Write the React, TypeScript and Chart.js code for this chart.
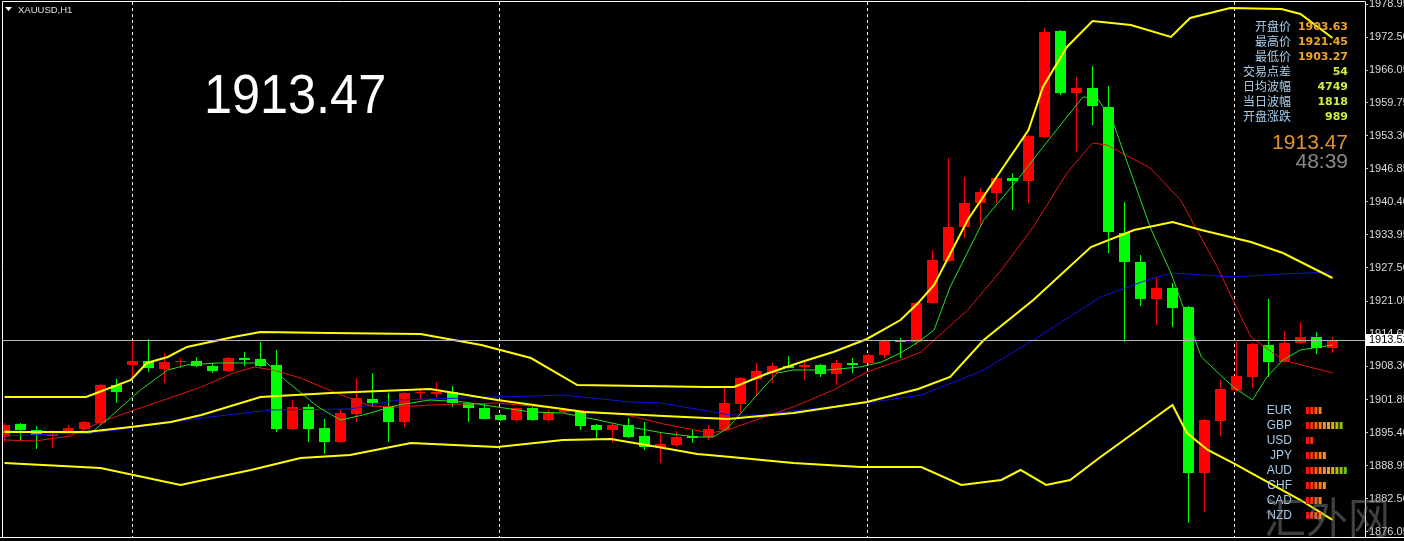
import React, { useEffect, useRef } from "react";
import { Chart, registerables } from "chart.js";

Chart.register(...registerables);

// ---------- data ----------
const symbolLabel = "XAUUSD,H1";
const bigPriceText = "1913.47";
const bidPrice = 1913.52;
const clockText = "48:39";

const opens = [
  1894.54, 1897.08, 1895.9, 1894.74, 1895.32, 1896.1, 1897.27, 1904.68, 1908.58, 1909.36,
  1907.8, 1909.16, 1909.36, 1908.38, 1907.41, 1909.94, 1909.75, 1908.58, 1896.1, 1900.39,
  1896.29, 1893.57, 1899.03, 1901.95, 1900.59, 1897.47, 1903.12, 1902.93, 1903.32, 1901.17,
  1900.2, 1898.83, 1897.86, 1900.2, 1897.86, 1899.42, 1899.42, 1896.88, 1895.9, 1896.88,
  1894.74, 1892.59, 1892.98, 1894.74, 1894.54, 1895.9, 1900.98, 1905.85, 1907.02, 1908.38,
  1908.19, 1908.58, 1906.82, 1908.97, 1908.97, 1910.53, 1913.45, 1913.06, 1920.67, 1928.85,
  1935.48, 1940.16, 1942.11, 1945.03, 1944.45, 1953.02, 1973.69, 1961.6, 1962.58, 1958.87,
  1934.31, 1928.66, 1921.45, 1923.59, 1919.89, 1887.52, 1897.66, 1903.63, 1906.24, 1912.48,
  1909.16, 1912.87, 1914.04, 1911.89,
];
const highs = [
  1897.27, 1897.27, 1896.69, 1895.9, 1896.88, 1897.66, 1904.9, 1905.85, 1913.45, 1913.65,
  1910.92, 1909.94, 1910.14, 1908.97, 1910.14, 1911.11, 1913.06, 1911.5, 1901.76, 1900.98,
  1898.05, 1899.81, 1906.04, 1907.02, 1903.12, 1903.3, 1904.1, 1905.26, 1904.49, 1901.37,
  1901.17, 1899.03, 1900.39, 1900.4, 1899.81, 1900.0, 1899.6, 1897.08, 1897.27, 1898.25,
  1897.47, 1895.32, 1895.71, 1895.9, 1896.88, 1904.1, 1906.24, 1908.97, 1908.97, 1910.33,
  1909.55, 1908.77, 1909.55, 1909.94, 1910.72, 1913.65, 1913.84, 1920.9, 1931.0, 1948.93,
  1945.23, 1943.08, 1945.23, 1946.01, 1953.4, 1974.27, 1973.88, 1964.72, 1966.86, 1962.97,
  1940.35, 1930.02, 1925.54, 1924.56, 1920.08, 1898.05, 1905.65, 1913.06, 1912.87, 1921.45,
  1915.21, 1916.96, 1915.01, 1914.04,
];
const lows = [
  1893.57, 1893.96, 1892.2, 1892.4, 1894.93, 1895.9, 1896.88, 1901.17, 1906.04, 1907.21,
  1905.07, 1907.99, 1908.19, 1907.02, 1907.21, 1908.38, 1908.19, 1895.52, 1896.0, 1893.57,
  1891.23, 1893.4, 1897.47, 1900.39, 1893.57, 1896.49, 1901.76, 1902.34, 1900.39, 1897.47,
  1898.0, 1897.66, 1897.47, 1897.7, 1897.47, 1899.2, 1895.9, 1894.35, 1893.37, 1894.35,
  1892.01, 1889.47, 1892.59, 1893.37, 1893.96, 1895.7, 1899.22, 1902.73, 1905.07, 1907.9,
  1905.65, 1906.24, 1904.68, 1907.02, 1908.58, 1909.94, 1909.94, 1912.48, 1920.5, 1928.7,
  1933.34, 1935.48, 1940.16, 1938.79, 1940.16, 1952.9, 1961.21, 1950.1, 1955.36, 1930.41,
  1913.06, 1920.08, 1916.38, 1915.99, 1877.78, 1879.92, 1894.74, 1903.27, 1904.1, 1906.24,
  1909.0, 1912.7, 1910.72, 1910.92,
];
const closes = [
  1896.88, 1895.9, 1894.93, 1895.1, 1896.29, 1897.47, 1904.68, 1903.32, 1909.36, 1907.99,
  1909.16, 1909.36, 1908.38, 1907.41, 1909.94, 1909.55, 1908.38, 1896.1, 1900.39, 1896.1,
  1893.57, 1899.22, 1902.15, 1901.17, 1897.47, 1903.12, 1903.32, 1903.32, 1901.17, 1900.2,
  1898.05, 1897.86, 1900.2, 1897.86, 1899.42, 1899.81, 1896.69, 1895.9, 1896.88, 1894.54,
  1892.59, 1893.18, 1894.54, 1894.35, 1896.1, 1901.17, 1906.04, 1907.41, 1908.38, 1907.99,
  1908.58, 1906.82, 1908.97, 1908.58, 1910.53, 1913.45, 1913.06, 1920.67, 1929.05, 1935.48,
  1940.16, 1942.3, 1945.03, 1944.45, 1953.22, 1973.49, 1961.6, 1962.58, 1959.07, 1934.5,
  1928.66, 1921.45, 1923.59, 1919.69, 1887.52, 1897.86, 1903.9, 1906.43, 1912.67, 1909.16,
  1912.87, 1914.04, 1911.89, 1913.47,
];

// indicator lines: bar position -> price
const bbUpperAt = [0, 5.1, 7.9, 8.9, 10.2, 11.4, 14.3, 16, 20.4, 26, 29.8, 32.9, 35.8, 43.9, 45.6, 47.6, 49.8, 51.8, 53.9, 56, 57.1, 58.1, 60.2, 62.3, 64, 64.9, 66.4, 68, 70.4, 72.9, 74.1, 76.6, 79.8, 81, 83];
const bbUpper = [1902.34, 1902.34, 1905.66, 1908.97, 1910.14, 1912.09, 1914.04, 1915.01, 1914.82, 1914.62, 1912.48, 1909.94, 1904.68, 1904.29, 1904.29, 1906.82, 1909.16, 1911.11, 1913.65, 1917.35, 1920.67, 1924.17, 1936.85, 1946.59, 1954.39, 1962.77, 1970.57, 1975.64, 1974.86, 1972.52, 1976.22, 1978.17, 1977.98, 1977.0, 1972.32];
const bbMiddleAt = [0, 5.1, 7.9, 10.4, 12.3, 16, 20.4, 26.6, 30.8, 34.9, 36.2, 41.2, 45.2, 49.3, 51.4, 53.9, 57.1, 59.1, 61.2, 64.3, 67.9, 70.6, 73, 74.8, 77.9, 79.9, 83];
const bbMiddle = [1895.52, 1895.52, 1896.49, 1897.47, 1898.83, 1902.34, 1903.12, 1903.9, 1901.76, 1900.0, 1899.42, 1898.64, 1898.05, 1899.22, 1900.2, 1901.37, 1903.9, 1906.24, 1913.45, 1921.25, 1931.58, 1934.9, 1936.46, 1934.9, 1932.56, 1930.41, 1925.54];
const bbLowerAt = [0, 6, 11, 15.4, 18.5, 21.6, 25.4, 30.8, 34.9, 37.9, 41.2, 43.3, 45.4, 49.3, 53.5, 57.3, 59.8, 62.3, 63.5, 65.1, 66.6, 68.5, 73, 73.9, 75.2, 76.8, 77.9, 81, 83];
const bbLower = [1889.47, 1888.5, 1885.19, 1888.11, 1890.45, 1891.03, 1893.37, 1892.59, 1893.96, 1894.15, 1892.4, 1891.23, 1890.64, 1889.47, 1888.7, 1888.7, 1885.19, 1886.16, 1888.11, 1885.19, 1886.16, 1890.64, 1900.78, 1895.32, 1892.01, 1889.47, 1887.53, 1882.26, 1878.37];
const maBlueAt = [0, 6, 7.9, 12.3, 16.6, 21.6, 24.6, 28.7, 30.8, 34.9, 39.1, 41, 45.4, 47.3, 49.8, 53.9, 57.3, 58.1, 61.2, 64.3, 68.5, 71.6, 73, 76.8, 79.9, 82.9];
const maBlue = [1894.74, 1895.52, 1896.29, 1898.25, 1899.81, 1900.0, 1901.76, 1902.15, 1902.34, 1902.73, 1901.37, 1901.17, 1898.83, 1898.83, 1899.81, 1901.17, 1902.73, 1903.71, 1907.6, 1913.45, 1921.84, 1925.35, 1926.51, 1925.73, 1926.32, 1926.71];
const maRedAt = [0, 1.9, 4.1, 6, 8.5, 12.3, 14.3, 15.6, 16.8, 18.5, 20.6, 22.9, 24.6, 26.6, 30.8, 34.9, 38.9, 41.2, 44.1, 45.2, 47.3, 49.3, 51.8, 53.9, 56, 57.3, 58.1, 60.2, 62.3, 64.3, 66.4, 68, 68.9, 71.6, 73.5, 75.8, 77.9, 79.9, 83];
const maRed = [1893.96, 1893.76, 1894.74, 1897.47, 1900.2, 1904.29, 1907.02, 1908.19, 1907.6, 1906.04, 1903.32, 1900.59, 1900.39, 1900.78, 1901.17, 1900.0, 1898.83, 1897.08, 1895.32, 1895.9, 1898.25, 1900.39, 1903.71, 1907.21, 1909.55, 1911.11, 1913.45, 1919.3, 1927.1, 1935.48, 1946.01, 1951.85, 1951.46, 1946.98, 1940.74, 1927.68, 1914.04, 1909.55, 1907.02];
const maGreenAt = [0, 5.4, 6.6, 8.5, 10.2, 11.4, 13.3, 16.4, 17.4, 19.6, 21, 22.4, 24.6, 26.6, 28.7, 30.8, 32.9, 34.9, 37.1, 39.1, 41.2, 43.3, 44.3, 45.2, 46.2, 47.3, 48.3, 49.3, 51.4, 53.5, 54.8, 56, 57.1, 58.1, 59.1, 61.2, 63.3, 65.4, 67.4, 68.3, 69.3, 71.6, 72.9, 74.8, 76.8, 78, 78.9, 79.9, 81, 83];
const maGreen = [1895.71, 1895.32, 1898.44, 1903.71, 1907.6, 1908.58, 1908.97, 1908.97, 1906.04, 1900.39, 1897.86, 1898.83, 1900.78, 1901.76, 1901.37, 1900.39, 1899.42, 1899.22, 1897.86, 1896.49, 1895.32, 1894.54, 1894.54, 1896.29, 1899.81, 1903.71, 1907.02, 1907.6, 1907.6, 1908.19, 1909.16, 1910.92, 1913.06, 1915.4, 1923.78, 1936.85, 1944.64, 1953.02, 1960.82, 1960.63, 1955.75, 1935.48, 1926.51, 1910.14, 1904.29, 1901.76, 1906.24, 1909.55, 1911.5, 1912.48];

const yTickValues = [1978.95, 1972.5, 1966.05, 1959.75, 1953.3, 1946.85, 1940.4, 1933.95, 1927.5, 1921.05, 1914.6, 1908.3, 1901.85, 1895.4, 1888.95, 1882.5, 1876.05];
const separatorAt = [8, 30.94, 53.94, 76.88];

const infoLabels = ["开盘价", "最高价", "最低价", "交易点差", "日均波幅", "当日波幅", "开盘涨跌"];
const infoValues = ["1903.63", "1921.45", "1903.27", "54", "4749", "1818", "989"];

const currencyNames = ["EUR", "GBP", "USD", "JPY", "AUD", "CHF", "CAD", "NZD"];
const currencyBars = [4, 9, 2, 5, 10, 5, 4, 4];
const watermarkText = "汇外网";

// ---------- styles ----------
const UP = "#ff0000";
const DOWN = "#00ff00";
const barPalette = ["#ff1010", "#ff3010", "#ff5a10", "#ff7a10", "#ff9410", "#f0a010", "#d8b010", "#b4b810", "#90c010", "#6cc010"];

const pts = (xs: number[], ys: number[]) => xs.map((x, k) => ({ x, y: ys[k] }));

const overlayPlugin = {
  id: "mt4overlay",
  beforeDraw(chart: any) {
    const c = chart.ctx;
    c.save();
    c.fillStyle = "#000000";
    c.fillRect(0, 0, chart.width, chart.height);
    c.restore();
  },
  beforeDatasetsDraw(chart: any) {
    const c = chart.ctx;
    const { chartArea, scales } = chart;
    c.save();
    c.strokeStyle = "#ffffff";
    c.lineWidth = 1;
    c.setLineDash([3, 3]);
    for (const s of separatorAt) {
      const x = Math.round(scales.x.getPixelForValue(s) - 0.5) + 0.5;
      c.beginPath();
      c.moveTo(x, chartArea.top);
      c.lineTo(x, chartArea.bottom);
      c.stroke();
    }
    c.restore();
  },
  afterDatasetsDraw(chart: any) {
    const c = chart.ctx;
    const { chartArea, scales } = chart;
    c.save();
    // bid line
    const by = Math.round(scales.y.getPixelForValue(bidPrice)) + 0.5;
    c.strokeStyle = "#b4b4b4";
    c.lineWidth = 1;
    c.beginPath();
    c.moveTo(chartArea.left, by);
    c.lineTo(chartArea.right, by);
    c.stroke();
    // frame
    c.strokeStyle = "#ffffff";
    c.beginPath();
    c.moveTo(chartArea.left - 0.5, chartArea.bottom + 0.5);
    c.lineTo(chartArea.left - 0.5, chartArea.top - 0.5);
    c.lineTo(chartArea.right + 0.5, chartArea.top - 0.5);
    c.moveTo(0, chartArea.bottom + 0.5);
    c.lineTo(chart.width, chartArea.bottom + 0.5);
    c.stroke();
    c.restore();
  },
  afterDraw(chart: any) {
    const c = chart.ctx;
    const { scales, chartArea } = chart;
    c.save();
    // bid price box on axis
    const by = scales.y.getPixelForValue(bidPrice);
    c.fillStyle = "#ffffff";
    c.fillRect(chartArea.right + 1, Math.round(by) - 6, 40, 12);
    c.fillStyle = "#000000";
    c.font = "11px 'Liberation Sans'";
    c.textBaseline = "middle";
    c.textAlign = "left";
    c.fillText(bidPrice.toFixed(2), chartArea.right + 4, Math.round(by));

    // symbol label
    c.fillStyle = "#ffffff";
    c.beginPath();
    c.moveTo(5, 7);
    c.lineTo(12, 7);
    c.lineTo(8.5, 11);
    c.closePath();
    c.fill();
    c.fillStyle = "#e0e0e0";
    c.font = "9.5px 'Liberation Sans'";
    c.textBaseline = "middle";
    c.fillText(symbolLabel, 18, 10);

    // big price
    c.save();
    c.fillStyle = "#ffffff";
    c.font = "56px 'Liberation Sans'";
    c.textBaseline = "alphabetic";
    c.translate(204, 113);
    c.scale(0.9, 1);
    c.fillText(bigPriceText, 0, 0);
    c.restore();

    // info panel
    c.textBaseline = "middle";
    infoLabels.forEach((lab, k) => {
      const y = 26 + k * 15;
      c.textAlign = "right";
      c.fillStyle = "#a8cce8";
      c.font = "12px 'Noto Sans CJK SC'";
      c.fillText(lab, 1291, y);
      c.fillStyle = k < 3 ? "#f0a424" : "#c8f03c";
      c.font = "bold 11px 'DejaVu Sans'";
      c.fillText(infoValues[k], 1348, y + 1);
    });
    c.textAlign = "right";
    c.font = "21px 'Liberation Sans'";
    c.fillStyle = "#e0952c";
    c.fillText(bigPriceText, 1348, 143);
    c.fillStyle = "#8a8a8a";
    c.fillText(clockText, 1348, 162);

    // currency strength panel
    currencyNames.forEach((name, k) => {
      const y = 410 + k * 15;
      c.textAlign = "right";
      c.font = "12px 'Liberation Sans'";
      c.fillStyle = "#a8cce8";
      c.fillText(name, 1292, y + 1);
      for (let b = 0; b < currencyBars[k]; b++) {
        c.fillStyle = barPalette[b];
        c.fillRect(1306 + b * 4.2, y - 3, 3, 7);
      }
    });

    // watermark
    c.textAlign = "left";
    c.textBaseline = "alphabetic";
    c.font = "42px 'Noto Sans CJK SC'";
    c.fillStyle = "rgba(128,128,128,0.5)";
    c.fillText(watermarkText, 1264, 533);
    c.restore();
  },
};

export default function App() {
  const ref = useRef<HTMLCanvasElement>(null);
  useEffect(() => {
    document.body.style.margin = "0";
    document.body.style.background = "#000000";
    const canvas = ref.current;
    if (!canvas) return;
    const idx = opens.map((_, i) => i);
    const colors = idx.map((i) => (closes[i] >= opens[i] ? UP : DOWN));
    const xMin = -0.09375;
    const line = (data: any[], color: string, width: number) => ({
      type: "line" as const,
      data,
      borderColor: color,
      borderWidth: width,
      pointRadius: 0,
      tension: 0,
      fill: false,
      order: 0,
    });
    const chart = new Chart(canvas, {
      type: "bar",
      data: {
        datasets: [
          line(pts(bbUpperAt, bbUpper), "#ffff00", 2),
          line(pts(bbMiddleAt, bbMiddle), "#ffff00", 2),
          line(pts(bbLowerAt, bbLower), "#ffff00", 2),
          line(pts(maGreenAt, maGreen), "#22e022", 1),
          line(pts(maRedAt, maRed), "#e41414", 1),
          line(pts(maBlueAt, maBlue), "#1010e8", 1),
          {
            type: "bar",
            data: idx.map((i) => ({ x: i, y: [opens[i], closes[i]] })),
            backgroundColor: colors,
            barThickness: 11,
            grouped: false,
            minBarLength: 1,
            inflateAmount: 0,
            borderWidth: 0,
            order: 2,
          } as any,
          {
            type: "bar",
            data: idx.map((i) => ({ x: i, y: [lows[i], highs[i]] })),
            backgroundColor: colors,
            barThickness: 1,
            grouped: false,
            inflateAmount: 0,
            borderWidth: 0,
            order: 3,
          } as any,
        ],
      },
      options: {
        responsive: false,
        animation: false,
        layout: { padding: { left: 3, top: 2, right: 0, bottom: 4 } },
        plugins: { legend: { display: false }, tooltip: { enabled: false } },
        scales: {
          x: { type: "linear", offset: false, bounds: "data", min: xMin, max: xMin + 1362 / 16, display: false },
          y: {
            position: "right",
            offset: false,
            min: 1875.05,
            max: 1979.34,
            afterFit: (s: any) => {
              s.width = 39;
              s.paddingTop = 0;
              s.paddingBottom = 0;
            },
            afterBuildTicks: (s: any) => {
              s.ticks = yTickValues.map((v) => ({ value: v }));
            },
            grid: { drawOnChartArea: false, drawTicks: true, tickLength: 3, color: "#c8c8c8" },
            border: { display: true, color: "#ffffff" },
            ticks: {
              color: "#dcdcdc",
              font: { family: "'Liberation Sans'", size: 11 },
              padding: 1,
              autoSkip: false,
              callback: (v: any) => Number(v).toFixed(2),
            },
          },
        },
      } as any,
      plugins: [overlayPlugin],
    });
    return () => chart.destroy();
  }, []);
  return <canvas ref={ref} width={1404} height={541} style={{ display: "block", width: 1404, height: 541 }} />;
}
